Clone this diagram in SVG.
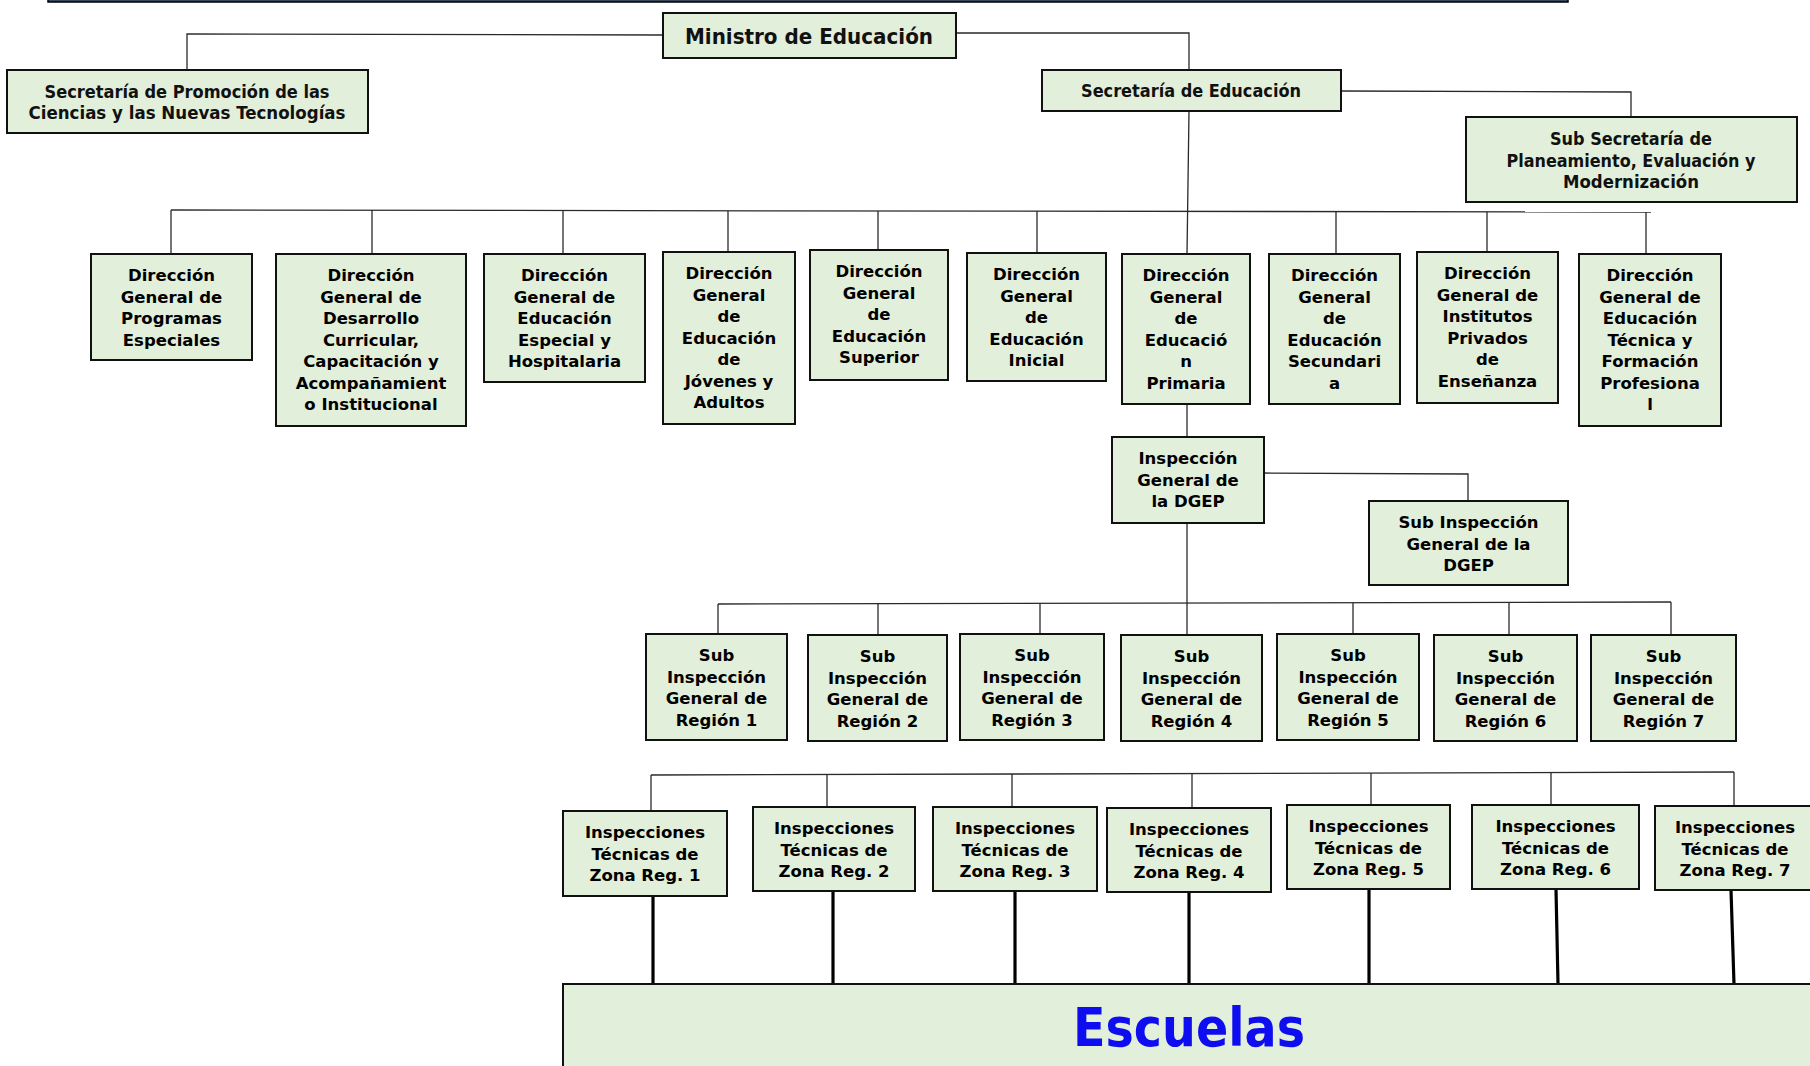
<svg xmlns="http://www.w3.org/2000/svg" width="1810" height="1066" viewBox="0 0 1810 1066">
<style>
.box{fill:#e2efda;stroke:#111;stroke-width:2}
.c{fill:none;stroke:#2a2a2a;stroke-width:1.3}
.k{fill:none;stroke:#000;stroke-width:3.2}
.t{font-family:"DejaVu Sans",sans-serif;font-weight:bold;font-size:16.5px;fill:#000;text-anchor:middle}
.h{font-family:"DejaVu Sans Condensed","DejaVu Sans",sans-serif;font-weight:bold;fill:#111;text-anchor:middle}
</style>
<rect x="48" y="-10" width="1520" height="12" fill="#3a4a60" stroke="#000" stroke-width="1.5"/>
<g id="connectors">
<polyline class="c" points="663,35 187,34 187,70"/>
<polyline class="c" points="956,33 1189,33 1189,70"/>
<polyline class="c" points="1341,91 1631,92 1631,117"/>
<line class="c" x1="1189" y1="111" x2="1187" y2="254"/>
<line class="c" x1="171" y1="210" x2="1651" y2="212"/>
<line class="c" x1="171" y1="210" x2="171" y2="254"/>
<line class="c" x1="372" y1="210" x2="372" y2="254"/>
<line class="c" x1="563" y1="211" x2="563" y2="254"/>
<line class="c" x1="728" y1="211" x2="728" y2="252"/>
<line class="c" x1="878" y1="211" x2="878" y2="250"/>
<line class="c" x1="1037" y1="211" x2="1037" y2="253"/>
<line class="c" x1="1336" y1="212" x2="1336" y2="254"/>
<line class="c" x1="1487" y1="212" x2="1487" y2="252"/>
<line class="c" x1="1646" y1="212" x2="1646" y2="254"/>
<line class="c" x1="1187" y1="404" x2="1187" y2="437"/>
<polyline class="c" points="1264,473 1468,474 1468,501"/>
<line class="c" x1="1187" y1="523" x2="1187" y2="635"/>
<line class="c" x1="718" y1="604" x2="1671" y2="602"/>
<line class="c" x1="718" y1="604" x2="718" y2="634"/>
<line class="c" x1="878" y1="604" x2="878" y2="635"/>
<line class="c" x1="1040" y1="603" x2="1040" y2="634"/>
<line class="c" x1="1353" y1="603" x2="1353" y2="634"/>
<line class="c" x1="1509" y1="602" x2="1509" y2="635"/>
<line class="c" x1="1671" y1="602" x2="1671" y2="635"/>
<line class="c" x1="651" y1="775" x2="1734" y2="772"/>
<line class="c" x1="651" y1="775" x2="651" y2="811"/>
<line class="c" x1="827" y1="774" x2="827" y2="807"/>
<line class="c" x1="1012" y1="774" x2="1012" y2="807"/>
<line class="c" x1="1192" y1="774" x2="1192" y2="808"/>
<line class="c" x1="1371" y1="773" x2="1371" y2="805"/>
<line class="c" x1="1551" y1="773" x2="1551" y2="805"/>
<line class="c" x1="1734" y1="772" x2="1734" y2="806"/>
<line class="k" x1="653" y1="896" x2="653" y2="984"/>
<line class="k" x1="833" y1="891" x2="833" y2="984"/>
<line class="k" x1="1015" y1="891" x2="1015" y2="984"/>
<line class="k" x1="1189" y1="892" x2="1189" y2="984"/>
<line class="k" x1="1369" y1="889" x2="1369" y2="984"/>
<line class="k" x1="1556" y1="889" x2="1558" y2="984"/>
<line class="k" x1="1731" y1="890" x2="1734" y2="984"/>
</g>
<g id="ministro"><rect class="box" x="663" y="13" width="293" height="45"/><text class="h" x="809" y="43.5" font-size="22" textLength="248" lengthAdjust="spacingAndGlyphs">Ministro de Educación</text></g>
<g id="sec-promocion"><rect class="box" x="7" y="70" width="361" height="63"/><text class="h" x="187" y="97.5" font-size="18.5" textLength="285" lengthAdjust="spacingAndGlyphs">Secretaría de Promoción de las</text><text class="h" x="187" y="118.5" font-size="18.5" textLength="317" lengthAdjust="spacingAndGlyphs">Ciencias y las Nuevas Tecnologías</text></g>
<g id="sec-educacion"><rect class="box" x="1042" y="70" width="299" height="41"/><text class="h" x="1191" y="96.5" font-size="18.5" textLength="220" lengthAdjust="spacingAndGlyphs">Secretaría de Educación</text></g>
<g id="sub-secretaria"><rect class="box" x="1466" y="117" width="331" height="85"/><text class="h" x="1631" y="145" font-size="18.5" textLength="162" lengthAdjust="spacingAndGlyphs">Sub Secretaría de</text><text class="h" x="1631" y="167" font-size="18.5" textLength="249" lengthAdjust="spacingAndGlyphs">Planeamiento, Evaluación y</text><text class="h" x="1631" y="187.5" font-size="18.5" textLength="136" lengthAdjust="spacingAndGlyphs">Modernización</text></g>

<g id="dg-programas"><rect class="box" x="91" y="254" width="161" height="106"/><text class="t" x="171.5"><tspan x="171.5" y="281">Dirección</tspan><tspan x="171.5" y="302.5">General de</tspan><tspan x="171.5" y="324">Programas</tspan><tspan x="171.5" y="345.5">Especiales</tspan></text></g>
<g id="dg-desarrollo"><rect class="box" x="276" y="254" width="190" height="172"/><text class="t" x="371"><tspan x="371" y="281">Dirección</tspan><tspan x="371" y="302.5">General de</tspan><tspan x="371" y="324">Desarrollo</tspan><tspan x="371" y="345.5">Curricular,</tspan><tspan x="371" y="367">Capacitación y</tspan><tspan x="371" y="388.5">Acompañamient</tspan><tspan x="371" y="410">o Institucional</tspan></text></g>
<g id="dg-especial"><rect class="box" x="484" y="254" width="161" height="128"/><text class="t" x="564.5"><tspan x="564.5" y="281">Dirección</tspan><tspan x="564.5" y="302.5">General de</tspan><tspan x="564.5" y="324">Educación</tspan><tspan x="564.5" y="345.5">Especial y</tspan><tspan x="564.5" y="367">Hospitalaria</tspan></text></g>
<g id="dg-jovenes"><rect class="box" x="663" y="252" width="132" height="172"/><text class="t" x="729"><tspan x="729" y="279">Dirección</tspan><tspan x="729" y="300.5">General</tspan><tspan x="729" y="322">de</tspan><tspan x="729" y="343.5">Educación</tspan><tspan x="729" y="365">de</tspan><tspan x="729" y="386.5">Jóvenes y</tspan><tspan x="729" y="408">Adultos</tspan></text></g>
<g id="dg-superior"><rect class="box" x="810" y="250" width="138" height="130"/><text class="t" x="879"><tspan x="879" y="277">Dirección</tspan><tspan x="879" y="298.5">General</tspan><tspan x="879" y="320">de</tspan><tspan x="879" y="341.5">Educación</tspan><tspan x="879" y="363">Superior</tspan></text></g>
<g id="dg-inicial"><rect class="box" x="967" y="253" width="139" height="128"/><text class="t" x="1036.5"><tspan x="1036.5" y="280">Dirección</tspan><tspan x="1036.5" y="301.5">General</tspan><tspan x="1036.5" y="323">de</tspan><tspan x="1036.5" y="344.5">Educación</tspan><tspan x="1036.5" y="366">Inicial</tspan></text></g>
<g id="dg-primaria"><rect class="box" x="1122" y="254" width="128" height="150"/><text class="t" x="1186"><tspan x="1186" y="281">Dirección</tspan><tspan x="1186" y="302.5">General</tspan><tspan x="1186" y="324">de</tspan><tspan x="1186" y="345.5">Educació</tspan><tspan x="1186" y="367">n</tspan><tspan x="1186" y="388.5">Primaria</tspan></text></g>
<g id="dg-secundaria"><rect class="box" x="1269" y="254" width="131" height="150"/><text class="t" x="1334.5"><tspan x="1334.5" y="281">Dirección</tspan><tspan x="1334.5" y="302.5">General</tspan><tspan x="1334.5" y="324">de</tspan><tspan x="1334.5" y="345.5">Educación</tspan><tspan x="1334.5" y="367">Secundari</tspan><tspan x="1334.5" y="388.5">a</tspan></text></g>
<g id="dg-privados"><rect class="box" x="1417" y="252" width="141" height="151"/><text class="t" x="1487.5"><tspan x="1487.5" y="279">Dirección</tspan><tspan x="1487.5" y="300.5">General de</tspan><tspan x="1487.5" y="322">Institutos</tspan><tspan x="1487.5" y="343.5">Privados</tspan><tspan x="1487.5" y="365">de</tspan><tspan x="1487.5" y="386.5">Enseñanza</tspan></text></g>
<g id="dg-tecnica"><rect class="box" x="1579" y="254" width="142" height="172"/><text class="t" x="1650"><tspan x="1650" y="281">Dirección</tspan><tspan x="1650" y="302.5">General de</tspan><tspan x="1650" y="324">Educación</tspan><tspan x="1650" y="345.5">Técnica y</tspan><tspan x="1650" y="367">Formación</tspan><tspan x="1650" y="388.5">Profesiona</tspan><tspan x="1650" y="410">l</tspan></text></g>

<g id="insp-general"><rect class="box" x="1112" y="437" width="152" height="86"/><text class="t" x="1188"><tspan x="1188" y="464">Inspección</tspan><tspan x="1188" y="485.5">General de</tspan><tspan x="1188" y="507">la DGEP</tspan></text></g>
<g id="sub-insp-general"><rect class="box" x="1369" y="501" width="199" height="84"/><text class="t" x="1468.5"><tspan x="1468.5" y="528">Sub Inspección</tspan><tspan x="1468.5" y="549.5">General de la</tspan><tspan x="1468.5" y="571">DGEP</tspan></text></g>

<g id="region-1"><rect class="box" x="646" y="634" width="141" height="106"/><text class="t" x="716.5"><tspan x="716.5" y="661">Sub</tspan><tspan x="716.5" y="682.5">Inspección</tspan><tspan x="716.5" y="704">General de</tspan><tspan x="716.5" y="725.5">Región 1</tspan></text></g>
<g id="region-2"><rect class="box" x="808" y="635" width="139" height="106"/><text class="t" x="877.5"><tspan x="877.5" y="662">Sub</tspan><tspan x="877.5" y="683.5">Inspección</tspan><tspan x="877.5" y="705">General de</tspan><tspan x="877.5" y="726.5">Región 2</tspan></text></g>
<g id="region-3"><rect class="box" x="960" y="634" width="144" height="106"/><text class="t" x="1032"><tspan x="1032" y="661">Sub</tspan><tspan x="1032" y="682.5">Inspección</tspan><tspan x="1032" y="704">General de</tspan><tspan x="1032" y="725.5">Región 3</tspan></text></g>
<g id="region-4"><rect class="box" x="1121" y="635" width="141" height="106"/><text class="t" x="1191.5"><tspan x="1191.5" y="662">Sub</tspan><tspan x="1191.5" y="683.5">Inspección</tspan><tspan x="1191.5" y="705">General de</tspan><tspan x="1191.5" y="726.5">Región 4</tspan></text></g>
<g id="region-5"><rect class="box" x="1277" y="634" width="142" height="106"/><text class="t" x="1348"><tspan x="1348" y="661">Sub</tspan><tspan x="1348" y="682.5">Inspección</tspan><tspan x="1348" y="704">General de</tspan><tspan x="1348" y="725.5">Región 5</tspan></text></g>
<g id="region-6"><rect class="box" x="1434" y="635" width="143" height="106"/><text class="t" x="1505.5"><tspan x="1505.5" y="662">Sub</tspan><tspan x="1505.5" y="683.5">Inspección</tspan><tspan x="1505.5" y="705">General de</tspan><tspan x="1505.5" y="726.5">Región 6</tspan></text></g>
<g id="region-7"><rect class="box" x="1591" y="635" width="145" height="106"/><text class="t" x="1663.5"><tspan x="1663.5" y="662">Sub</tspan><tspan x="1663.5" y="683.5">Inspección</tspan><tspan x="1663.5" y="705">General de</tspan><tspan x="1663.5" y="726.5">Región 7</tspan></text></g>

<g id="zona-1"><rect class="box" x="563" y="811" width="164" height="85"/><text class="t" x="645"><tspan x="645" y="838">Inspecciones</tspan><tspan x="645" y="859.5">Técnicas de</tspan><tspan x="645" y="881">Zona Reg. 1</tspan></text></g>
<g id="zona-2"><rect class="box" x="753" y="807" width="162" height="84"/><text class="t" x="834"><tspan x="834" y="834">Inspecciones</tspan><tspan x="834" y="855.5">Técnicas de</tspan><tspan x="834" y="877">Zona Reg. 2</tspan></text></g>
<g id="zona-3"><rect class="box" x="933" y="807" width="164" height="84"/><text class="t" x="1015"><tspan x="1015" y="834">Inspecciones</tspan><tspan x="1015" y="855.5">Técnicas de</tspan><tspan x="1015" y="877">Zona Reg. 3</tspan></text></g>
<g id="zona-4"><rect class="box" x="1107" y="808" width="164" height="84"/><text class="t" x="1189"><tspan x="1189" y="835">Inspecciones</tspan><tspan x="1189" y="856.5">Técnicas de</tspan><tspan x="1189" y="878">Zona Reg. 4</tspan></text></g>
<g id="zona-5"><rect class="box" x="1287" y="805" width="163" height="84"/><text class="t" x="1368.5"><tspan x="1368.5" y="832">Inspecciones</tspan><tspan x="1368.5" y="853.5">Técnicas de</tspan><tspan x="1368.5" y="875">Zona Reg. 5</tspan></text></g>
<g id="zona-6"><rect class="box" x="1472" y="805" width="167" height="84"/><text class="t" x="1555.5"><tspan x="1555.5" y="832">Inspecciones</tspan><tspan x="1555.5" y="853.5">Técnicas de</tspan><tspan x="1555.5" y="875">Zona Reg. 6</tspan></text></g>
<g id="zona-7"><rect class="box" x="1655" y="806" width="160" height="84"/><text class="t" x="1735"><tspan x="1735" y="833">Inspecciones</tspan><tspan x="1735" y="854.5">Técnicas de</tspan><tspan x="1735" y="876">Zona Reg. 7</tspan></text></g>

<g id="escuelas"><rect class="box" x="563" y="984" width="1260" height="100"/><text class="h" x="1189" y="1046" font-size="54" fill="#0d0df0" style="fill:#0d0df0" textLength="232" lengthAdjust="spacingAndGlyphs">Escuelas</text></g>
</svg>
